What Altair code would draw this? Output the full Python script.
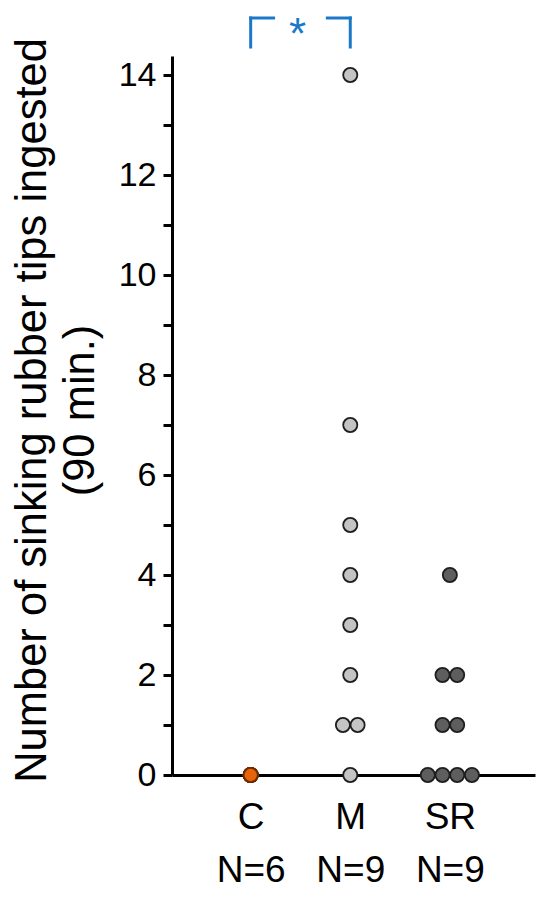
import altair as alt
import pandas as pd

# ---- data ----
groups = ["C", "M", "SR"]
c_values = [0, 0, 0, 0, 0, 0]
m_values = [0, 1, 1, 2, 3, 4, 5, 7, 14]
sr_values = [0, 0, 0, 0, 1, 1, 2, 2, 4]
group_values = [c_values, m_values, sr_values]
spread_groups = ["M", "SR"]          # C points overlap in the original
fill_colors = ["#E8630A", "#C4C4C4", "#5E5E5E"]
stroke_colors = ["#6b2d00", "#1e1e1e", "#1e1e1e"]

y_ticks = list(range(0, 15))
bracket_groups = ["C", "M"]
bracket_label = "*"

# ---- layout constants ----
STEP = 0.1476
FONT = "Liberation Sans"

rows = []
for gi, (g, vals) in enumerate(zip(groups, group_values)):
    counts = {}
    for v in vals:
        counts[v] = counts.get(v, 0) + 1
    seen = {}
    for v in vals:
        k = seen.get(v, 0)
        seen[v] = k + 1
        n = counts[v]
        off = (k - (n - 1) / 2) * STEP if g in spread_groups else 0.0
        rows.append({"group": g, "value": v, "xpos": gi + off})
df = pd.DataFrame(rows)

label_expr = " : ".join(
    f"datum.value == {i} ? ['{g}', 'N={len(v)}']" for i, (g, v) in enumerate(zip(groups, group_values))
) + " : ''"

x_scale = alt.Scale(domain=[-0.79, 2.855], nice=False, zero=False)
y_scale = alt.Scale(domain=[0, 14.38], nice=False, zero=False)

points = alt.Chart(df).mark_point(filled=True, shape="circle", size=200, strokeWidth=1.8, opacity=1).encode(
    x=alt.X("xpos:Q", scale=x_scale, axis=alt.Axis(
        values=[0, 1, 2], labelExpr=label_expr, ticks=False, grid=False, title=None,
        domainColor="black", domainWidth=3, labelFontSize=37, labelFont=FONT,
        labelColor="black", labelLineHeight=53, labelPadding=24, labelFlush=False)),
    y=alt.Y("value:Q", scale=y_scale, axis=alt.Axis(
        values=y_ticks, labelExpr="datum.value % 2 == 0 ? datum.label : ''",
        grid=False, domainColor="black", domainWidth=3, tickColor="black", tickWidth=3,
        tickSize=9, labelFontSize=34, labelFont=FONT, labelColor="black", labelPadding=7,
        title=["Number of sinking rubber tips ingested", "(90 min.)"],
        titleFontSize=43.5, titleFont=FONT, titleFontWeight="normal", titleColor="black",
        titleAngle=270, titleX=-161, titleY=354, titleAlign="center", titleBaseline="top",
        titleLineHeight=48)),
    fill=alt.Fill("group:N", scale=alt.Scale(domain=groups, range=fill_colors), legend=None),
    stroke=alt.Stroke("group:N", scale=alt.Scale(domain=groups, range=stroke_colors), legend=None),
)

# significance bracket
b0 = groups.index(bracket_groups[0])
b1 = groups.index(bracket_groups[1])
top = 15.14
bottom = 14.56
mid = (b0 + b1) / 2
gap = 0.27
seg = pd.DataFrame([
    {"x": b0, "x2": b0, "y": bottom, "y2": top},
    {"x": b0, "x2": mid - gap, "y": top, "y2": top},
    {"x": mid + gap, "x2": b1, "y": top, "y2": top},
    {"x": b1, "x2": b1, "y": top, "y2": bottom},
])
BLUE = "#1B78C8"
bracket = alt.Chart(seg).mark_rule(color=BLUE, strokeWidth=3, strokeCap="square").encode(
    x=alt.X("x:Q", scale=x_scale), x2="x2:Q",
    y=alt.Y("y:Q", scale=y_scale), y2="y2:Q",
)
star = alt.Chart(pd.DataFrame([{"x": mid - 0.03, "y": top, "t": bracket_label}])).mark_text(
    color=BLUE, fontSize=44, font=FONT, baseline="alphabetic", align="center", dy=31
).encode(x=alt.X("x:Q", scale=x_scale), y=alt.Y("y:Q", scale=y_scale), text="t:N")

chart = alt.layer(bracket, star, points).properties(
    width=363, height=719,
    autosize=alt.AutoSizeParams(type="none"),
    padding={"left": 164, "top": 48, "right": 7, "bottom": 122},
).configure_view(stroke=None)

chart.save("out.html", embed_options={"renderer": "svg", "actions": False})
